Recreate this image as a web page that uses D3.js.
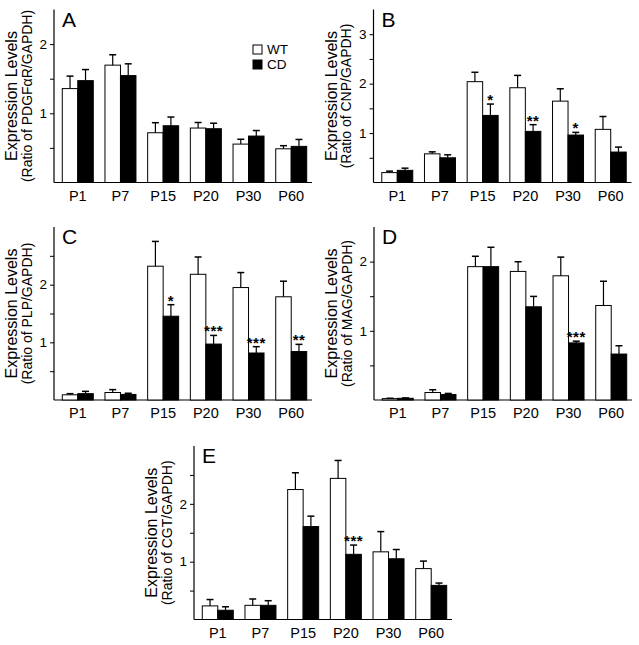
<!DOCTYPE html>
<html><head><meta charset="utf-8">
<script src="https://cdn.jsdelivr.net/npm/d3@7/dist/d3.min.js"></script>
<style>
body{margin:0;background:#fff}
svg{display:block}
text{font-family:"Liberation Sans",Arial,Helvetica,sans-serif;fill:#000}
</style>
</head><body>
<svg id="chart" width="639" height="645"></svg>
<script>
// ---------- data ----------
const categories = ["P1", "P7", "P15", "P20", "P30", "P60"];
const seriesNames = ["WT", "CD"];

const aWT    = [1.357, 1.696, 0.719, 0.787, 0.555, 0.487];
const aWTerr = [0.18, 0.15, 0.145, 0.08, 0.07, 0.045];
const aCD    = [1.472, 1.545, 0.82, 0.777, 0.671, 0.522];
const aCDerr = [0.16, 0.17, 0.126, 0.08, 0.08, 0.10];
const aStars = ["", "", "", "", "", ""];

const bWT    = [0.20, 0.58, 2.04, 1.917, 1.646, 1.075];
const bWTerr = [0.03, 0.04, 0.19, 0.25, 0.25, 0.26];
const bCD    = [0.246, 0.50, 1.357, 1.034, 0.96, 0.616];
const bCDerr = [0.044, 0.06, 0.23, 0.136, 0.054, 0.10];
const bStars = ["", "", "*", "**", "*", ""];

const cWT    = [0.09, 0.13, 2.32, 2.18, 1.95, 1.79];
const cWTerr = [0.02, 0.05, 0.43, 0.30, 0.26, 0.27];
const cCD    = [0.11, 0.097, 1.453, 0.97, 0.815, 0.84];
const cCDerr = [0.04, 0.02, 0.20, 0.15, 0.11, 0.125];
const cStars = ["", "", "*", "***", "***", "**"];

const dWT    = [0.02, 0.108, 1.927, 1.858, 1.795, 1.366];
const dWTerr = [0.005, 0.04, 0.15, 0.14, 0.27, 0.35];
const dCD    = [0.025, 0.08, 1.927, 1.347, 0.825, 0.664];
const dCDerr = [0.005, 0.015, 0.28, 0.15, 0.025, 0.12];
const dStars = ["", "", "", "", "***", ""];

const eWT    = [0.235, 0.245, 2.247, 2.44, 1.17, 0.88];
const eWTerr = [0.11, 0.11, 0.29, 0.31, 0.35, 0.13];
const eCD    = [0.16, 0.245, 1.607, 1.127, 1.05, 0.59];
const eCDerr = [0.06, 0.08, 0.18, 0.16, 0.16, 0.04];
const eStars = ["", "", "", "***", "", ""];

const panelLetters = ["A", "B", "C", "D", "E"];
const yTitle = "Expression Levels";
const ySubtitles = ["(Ratio of PDGFαR/GAPDH)", "(Ratio of CNP/GAPDH)", "(Ratio of PLP/GAPDH)",
                    "(Ratio of MAG/GAPDH)", "(Ratio of CGT/GAPDH)"];
const yMaxima = [2.5, 3.5, 3, 2.5, 3];
const yTickStep = 0.5;

// ---------- layout ----------
const layout = [
  {x: 54,    top: 9.5,  bottom: 182.5},
  {x: 373.5, top: 9.5,  bottom: 182.5},
  {x: 54,    top: 227,  bottom: 400},
  {x: 374,   top: 227,  bottom: 400},
  {x: 194,   top: 446,  bottom: 619.5}
];
const axisW = 258;

const panelData = [
  {wt: aWT, wtErr: aWTerr, cd: aCD, cdErr: aCDerr, stars: aStars},
  {wt: bWT, wtErr: bWTerr, cd: bCD, cdErr: bCDerr, stars: bStars},
  {wt: cWT, wtErr: cWTerr, cd: cCD, cdErr: cCDerr, stars: cStars},
  {wt: dWT, wtErr: dWTerr, cd: dCD, cdErr: dCDerr, stars: dStars},
  {wt: eWT, wtErr: eWTerr, cd: eCD, cdErr: eCDerr, stars: eStars}
];

const svg = d3.select("#chart");

panelData.forEach((pd, i) => {
  const L = layout[i];
  const g = svg.append("g").attr("transform", `translate(${L.x},0)`);
  const y = d3.scaleLinear().domain([0, yMaxima[i]]).range([L.bottom, L.top]);
  const x = d3.scaleBand().domain(categories).range([0, 261])
              .paddingInner(0.274).paddingOuter(0.194);
  const sub = d3.scaleBand().domain(seriesNames).range([0, x.bandwidth()]);

  // y axis
  const ticks = d3.range(yTickStep, yMaxima[i] - 1e-6, yTickStep);
  const yAxis = d3.axisLeft(y).tickValues(ticks).tickSize(4).tickSizeOuter(0).tickPadding(3)
    .tickFormat(d => Number.isInteger(d) ? d3.format("d")(d) : "");
  const ya = g.append("g").call(yAxis);
  ya.select(".domain").remove();
  ya.selectAll("line").attr("stroke", "#000").attr("stroke-width", 1);
  ya.selectAll("text").style("font-size", "13.5px");
  g.append("line").attr("x1", 0).attr("x2", 0).attr("y1", L.top).attr("y2", L.bottom)
    .attr("stroke", "#000").attr("stroke-width", 1.2);

  // x axis
  const xa = g.append("g").attr("transform", `translate(0,${L.bottom})`)
    .call(d3.axisBottom(x).tickSize(0).tickPadding(8));
  xa.select(".domain").remove();
  xa.selectAll("text").style("font-size", "14.5px");
  g.append("line").attr("x1", 0).attr("x2", axisW).attr("y1", L.bottom).attr("y2", L.bottom)
    .attr("stroke", "#000").attr("stroke-width", 1.2);

  // bars
  const rows = [];
  categories.forEach((c, k) => {
    rows.push({cat: c, s: "WT", v: pd.wt[k], e: pd.wtErr[k], star: ""});
    rows.push({cat: c, s: "CD", v: pd.cd[k], e: pd.cdErr[k], star: pd.stars[k]});
  });
  const bx = d => x(d.cat) + sub(d.s);
  g.selectAll("rect.bar").data(rows).join("rect")
    .attr("class", "bar")
    .attr("x", d => bx(d)).attr("width", sub.bandwidth())
    .attr("y", d => y(d.v)).attr("height", d => y(0) - y(d.v))
    .attr("fill", d => d.s === "WT" ? "#fff" : "#000")
    .attr("stroke", "#000").attr("stroke-width", 1);

  // error bars
  const cx = d => bx(d) + sub.bandwidth() / 2;
  g.selectAll("line.err").data(rows).join("line").attr("class", "err")
    .attr("x1", cx).attr("x2", cx)
    .attr("y1", d => y(d.v)).attr("y2", d => y(d.v + d.e))
    .attr("stroke", "#000").attr("stroke-width", 1.2);
  g.selectAll("line.cap").data(rows).join("line").attr("class", "cap")
    .attr("x1", d => cx(d) - 3.5).attr("x2", d => cx(d) + 3.5)
    .attr("y1", d => y(d.v + d.e)).attr("y2", d => y(d.v + d.e))
    .attr("stroke", "#000").attr("stroke-width", 1.5);

  // significance stars
  g.selectAll("text.star").data(rows.filter(d => d.star)).join("text").attr("class", "star")
    .attr("x", cx).attr("y", d => y(d.v + d.e) + 1)
    .attr("text-anchor", "middle").style("font-size", "15px").style("font-weight", "bold")
    .style("letter-spacing", "0.5px")
    .text(d => d.star);

  // panel letter
  g.append("text").attr("x", 8).attr("y", L.top + 17)
    .style("font-size", "21px").text(panelLetters[i]);

  // y titles
  const midY = (L.top + L.bottom) / 2;
  g.append("text").attr("transform", `translate(-37,${midY}) rotate(-90)`)
    .attr("text-anchor", "middle").style("font-size", "16px").text(yTitle);
  g.append("text").attr("transform", `translate(-22.5,${midY}) rotate(-90)`)
    .attr("text-anchor", "middle").style("font-size", "14px").text(ySubtitles[i]);

  // legend (panel A only)
  if (i === 0) {
    const lg = g.append("g").attr("transform", "translate(199,45)");
    seriesNames.forEach((s, k) => {
      lg.append("rect").attr("x", 0).attr("y", k * 15).attr("width", 9).attr("height", 9)
        .attr("fill", s === "WT" ? "#fff" : "#000").attr("stroke", "#000").attr("stroke-width", 1);
      lg.append("text").attr("x", 14).attr("y", k * 15 + 4.5).attr("dy", "0.36em")
        .style("font-size", "13.5px").text(s);
    });
  }
});
</script>
</body></html>
